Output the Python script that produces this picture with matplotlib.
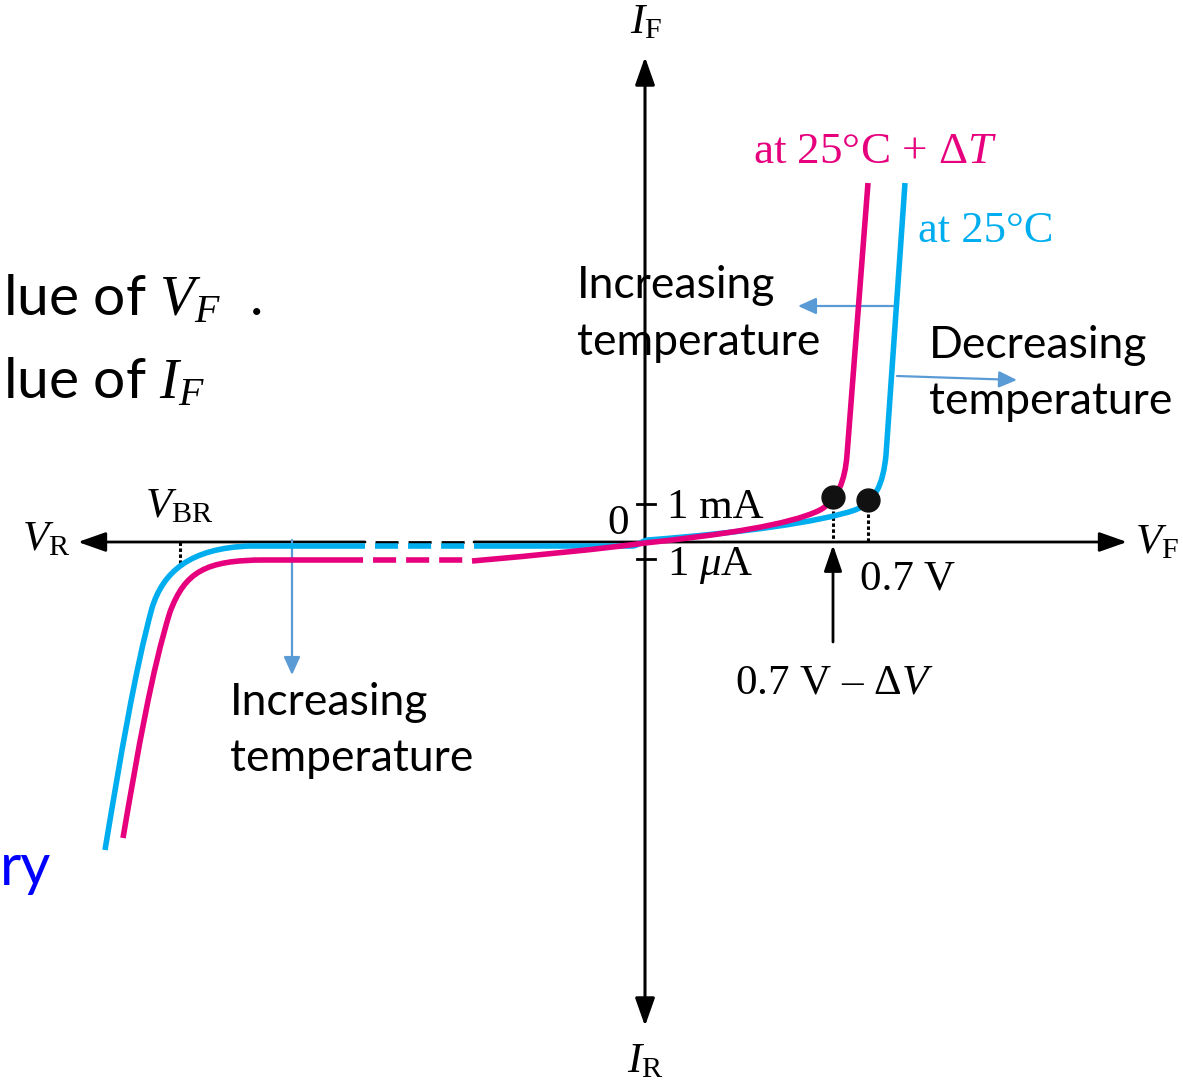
import numpy as np
import matplotlib
matplotlib.use('Agg')
import matplotlib.pyplot as plt
from matplotlib.path import Path
from matplotlib.patches import PathPatch, FancyArrowPatch

plt.rcParams['mathtext.fontset'] = 'custom'
plt.rcParams['mathtext.rm'] = 'Liberation Serif'
plt.rcParams['mathtext.it'] = 'Liberation Serif:italic'
plt.rcParams['lines.scale_dashes'] = False

CYAN = '#00AEEF'
MAGENTA = '#E6007E'
NOTE = '#5B9BD5'

# diode curves as bezier control points (x right, y down)
cyan_rev = [(105, 850), (120, 760), (135, 670), (152, 608),
            (163, 572), (190, 548), (250, 546), (365, 546)]
cyan_fwd = [(474, 546), (632, 546), (638, 546), (641, 541), (648, 540),
            (740, 533), (820, 522), (855, 510),
            (875, 502), (883, 485), (886, 455), (905, 183)]
mag_rev = [(123, 838), (138, 750), (152, 670), (170, 612),
           (185, 572), (205, 560), (265, 560), (340, 560)]
mag_fwd = [(472, 561), (540, 555), (600, 549), (645, 543),
           (720, 535), (790, 525), (820, 510),
           (838, 500), (845, 480), (847, 455), (868, 183)]
rev_ops = 'MCCCCCCL'
cyan_fwd_ops = 'MLCCCCCCCCCL'
mag_fwd_ops = 'MCCCCCCCCCL'

# dashed break on the reverse side
cyan_gap = [365, 474]
mag_gap = [340, 472]
axis_gap = [365, 474]

# knee points at 0.7 V - dV and 0.7 V
knee_x = [833, 868]
knee_y = [497, 500]

axis_y = 542
axis_x = 645

fig = plt.figure(figsize=(11.83, 10.84), dpi=100)
ax = fig.add_axes([0, 0, 1, 1])
ax.set_xlim(0, 1183)
ax.set_ylim(1084, 0)
ax.axis('off')

codes = {'M': Path.MOVETO, 'L': Path.LINETO, 'C': Path.CURVE4}


def draw_curve(pts, ops, color):
    p = Path(pts, [codes[o] for o in ops])
    ax.add_patch(PathPatch(p, fill=False, ec=color, lw=4.0,
                           capstyle='butt', joinstyle='round', zorder=3))


def arrow(a, b, color, lw, hl, hw, style='-|>', z=2):
    ax.add_patch(FancyArrowPatch(a, b, arrowstyle=f'{style},head_length={hl},head_width={hw}',
                                 mutation_scale=1, color=color, lw=lw,
                                 shrinkA=0, shrinkB=0, zorder=z))


dash_px = (16.6, 7.2)

# axes
arrow((axis_gap[0], axis_y), (78, axis_y), 'k', 2.0, 17, 6)
arrow((axis_gap[1], axis_y), (1127, axis_y), 'k', 2.0, 17, 6)
ax.plot(axis_gap, [axis_y, axis_y], color='k', lw=2.0,
        ls=(dash_px[0], dash_px), zorder=2)
arrow((axis_x, 1026), (axis_x, 57), 'k', 2.2, 17, 6, style='<|-|>')

# ticks
ax.plot([637, 655], [504, 504], color='k', lw=2.0)
ax.plot([637, 655], [559, 559], color='k', lw=2.0)

# curves
draw_curve(cyan_rev, rev_ops, CYAN)
draw_curve(cyan_fwd, cyan_fwd_ops, CYAN)
ax.plot(cyan_gap, [546, 546], color=CYAN, lw=4.0, ls=(dash_px[0], dash_px), zorder=3)
draw_curve(mag_rev, rev_ops, MAGENTA)
draw_curve(mag_fwd, mag_fwd_ops, MAGENTA)
ax.plot(mag_gap, [560, 560], color=MAGENTA, lw=4.0, ls=(0, dash_px), zorder=3)

# knee markers and drop lines
ax.plot(knee_x, knee_y, 'o', color='#111111', ms=16.5, zorder=5)
for x, y in zip(knee_x, knee_y):
    ax.plot([x, x], [y + 8, axis_y], color='k', lw=2.2, ls=(0, (2.5, 1.8)), zorder=2)
ax.plot([180, 180], [axis_y, 567], color='k', lw=2.2, ls=(0, (2.5, 1.8)), zorder=2)
arrow((833, 642), (833, 545), 'k', 2.0, 16, 5.5)

# temperature-shift arrows
arrow((895, 306), (798, 306), NOTE, 1.6, 11, 5)
arrow((897, 376), (1017, 380), NOTE, 1.6, 11, 5)
arrow((292, 540), (292, 675), NOTE, 1.6, 11, 5)

serif = 'Liberation Serif'
sz = 31
ax.text(630, 33, r'$I_{\mathrm{F}}$', fontsize=sz, va='baseline')
ax.text(627, 1072, r'$I_{\mathrm{R}}$', fontsize=sz, va='baseline')
ax.text(22, 550, r'$V_{\mathrm{R}}$', fontsize=sz, va='baseline')
ax.text(1135, 553, r'$V_{\mathrm{F}}$', fontsize=sz, va='baseline')
ax.text(145, 517, r'$V_{\mathrm{BR}}$', fontsize=sz, va='baseline')
ax.text(607, 534, '0', family=serif, fontsize=sz, va='baseline')
ax.text(667, 518, '1 mA', family=serif, fontsize=sz, va='baseline')
ax.text(667, 575, r'1 $\mu$A', family=serif, fontsize=sz, va='baseline')
ax.text(860, 589, '0.7 V', family=serif, fontsize=sz, va='baseline')
ax.text(735, 693, '0.7 V \u2013 \u0394$V$', family=serif, fontsize=sz, va='baseline')
ax.text(753, 163, 'at 25\u00b0C + \u0394$T$', family=serif, fontsize=32.5,
        color=MAGENTA, va='baseline')
ax.text(918, 242, 'at 25\u00b0C', family=serif, fontsize=32, color=CYAN, va='baseline')

sans = 'Lato'
nsz = 32
ax.text(577, 298, 'Increasing', family=sans, fontsize=nsz, va='baseline')
ax.text(577, 355, 'temperature', family=sans, fontsize=nsz, va='baseline')
ax.text(929, 358, 'Decreasing', family=sans, fontsize=nsz, va='baseline')
ax.text(929, 414, 'temperature', family=sans, fontsize=nsz, va='baseline')
ax.text(230, 715, 'Increasing', family=sans, fontsize=nsz, va='baseline')
ax.text(230, 771, 'temperature', family=sans, fontsize=nsz, va='baseline')

ax.text(3, 315, 'lue of $V_F$  .', family=sans, fontsize=41, va='baseline')
ax.text(3, 398, 'lue of $I_F$', family=sans, fontsize=41, va='baseline')
ax.text(0, 885, 'ry', family=sans, fontsize=42, color='#0000FF', va='baseline')

fig.savefig('out.png', dpi=100)
